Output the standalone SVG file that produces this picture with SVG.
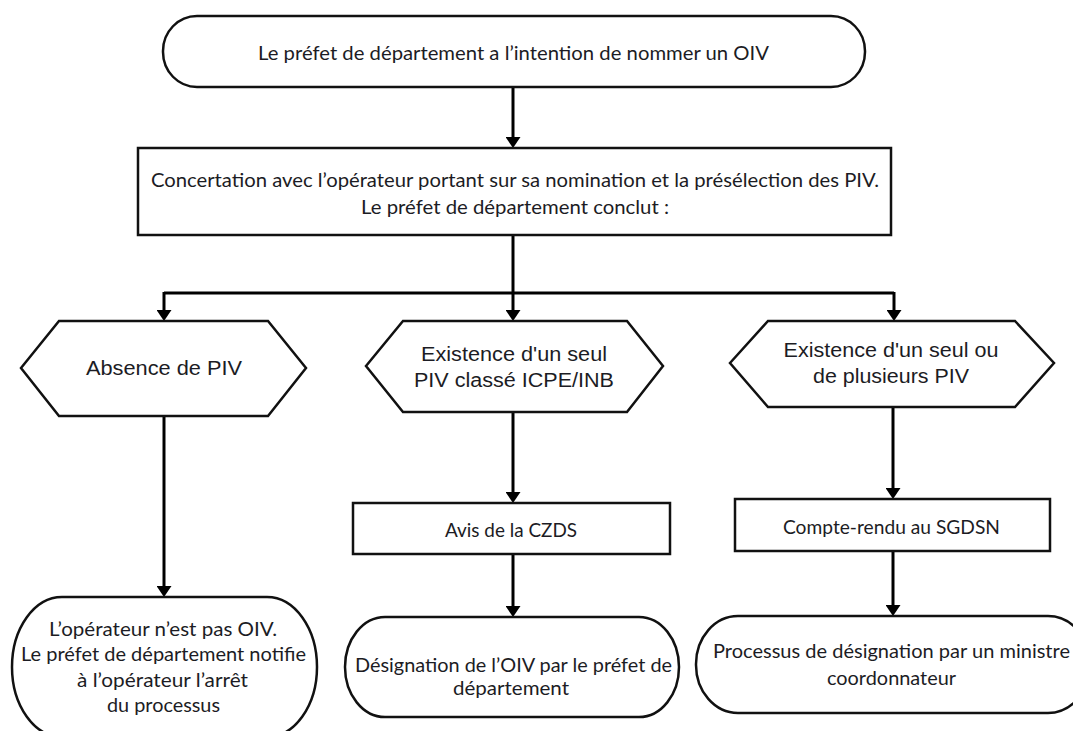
<svg xmlns="http://www.w3.org/2000/svg" width="1073" height="731" viewBox="0 0 1073 731">
<defs>
<style>
.box{fill:#fff;stroke:#111;stroke-width:2.5}
.t{font-family:Lato,"Open Sans","Liberation Sans",sans-serif;font-size:19px;fill:#1c1c24;text-anchor:middle}
.h{font-family:"Liberation Sans",Arial,sans-serif;font-size:20px;fill:#1c1c24;text-anchor:middle}
.c{fill:none;stroke:#000;stroke-width:3}
</style>
<marker id="arr" viewBox="0 0 11 15" refX="5" refY="7.5" markerWidth="11" markerHeight="15" markerUnits="userSpaceOnUse" orient="auto">
<path d="M0,0 L11,7.5 L0,15 z" fill="#000"/>
</marker>
</defs>
<rect width="1073" height="731" fill="#fff"/>
<g id="connectors">
<path class="c" d="M513,87 V142" marker-end="url(#arr)"/>
<path class="c" d="M513,235 V293"/>
<path class="c" d="M164,293 H894"/>
<path class="c" d="M164,292 V315" marker-end="url(#arr)"/>
<path class="c" d="M513,292 V315" marker-end="url(#arr)"/>
<path class="c" d="M894,292 V315" marker-end="url(#arr)"/>
<path class="c" d="M164,416 V591" marker-end="url(#arr)"/>
<path class="c" d="M513,412 V497" marker-end="url(#arr)"/>
<path class="c" d="M513,554 V611" marker-end="url(#arr)"/>
<path class="c" d="M893,407 V493" marker-end="url(#arr)"/>
<path class="c" d="M893,551 V610" marker-end="url(#arr)"/>
</g>
<g id="n-start">
<rect class="box" x="163" y="16" width="702" height="71" rx="34" ry="35"/>
<text class="t" x="513.5" y="60" textLength="511" lengthAdjust="spacingAndGlyphs">Le préfet de département a l’intention de nommer un OIV</text>
</g>
<g id="n-concertation">
<rect class="box" x="138" y="148" width="753" height="87"/>
<text class="t" x="515" y="187" textLength="728" lengthAdjust="spacingAndGlyphs">Concertation avec l’opérateur portant sur sa nomination et la présélection des PIV.</text>
<text class="t" x="515" y="214" textLength="308" lengthAdjust="spacingAndGlyphs">Le préfet de département conclut :</text>
</g>
<g id="n-absence">
<polygon class="box" points="21,368 59,321 268,321 306,368 268,416 59,416"/>
<text class="h" x="164" y="375" textLength="156" lengthAdjust="spacingAndGlyphs">Absence de PIV</text>
</g>
<g id="n-seul">
<polygon class="box" points="366,366 403,321 627,321 663,366 627,412 403,412"/>
<text class="h" x="514" y="361" textLength="186" lengthAdjust="spacingAndGlyphs">Existence d'un seul</text>
<text class="h" x="514" y="387" textLength="200" lengthAdjust="spacingAndGlyphs">PIV classé ICPE/INB</text>
</g>
<g id="n-plusieurs">
<polygon class="box" points="730,363 768,321 1015,321 1054,363 1015,407 768,407"/>
<text class="h" x="891" y="357" textLength="215" lengthAdjust="spacingAndGlyphs">Existence d'un seul ou</text>
<text class="h" x="891" y="383" textLength="156" lengthAdjust="spacingAndGlyphs">de plusieurs PIV</text>
</g>
<g id="n-czds">
<rect class="box" x="353" y="503" width="317" height="51"/>
<text class="t" x="511" y="537" textLength="132" lengthAdjust="spacingAndGlyphs">Avis de la CZDS</text>
</g>
<g id="n-sgdsn">
<rect class="box" x="735" y="499" width="315" height="52"/>
<text class="t" x="891.5" y="534" textLength="217" lengthAdjust="spacingAndGlyphs">Compte-rendu au SGDSN</text>
</g>
<g id="n-pasoiv">
<rect class="box" x="12" y="597" width="305" height="140" rx="50" ry="70"/>
<text class="t" x="163" y="636" textLength="228" lengthAdjust="spacingAndGlyphs">L’opérateur n’est pas OIV.</text>
<text class="t" x="163.5" y="661" textLength="285" lengthAdjust="spacingAndGlyphs">Le préfet de département notifie</text>
<text class="t" x="162.5" y="687" textLength="171" lengthAdjust="spacingAndGlyphs">à l’opérateur l’arrêt</text>
<text class="t" x="163.5" y="712" textLength="113" lengthAdjust="spacingAndGlyphs">du processus</text>
</g>
<g id="n-designation">
<rect class="box" x="345" y="617" width="334" height="100" rx="40" ry="50"/>
<text class="t" x="513.5" y="672" textLength="317" lengthAdjust="spacingAndGlyphs">Désignation de l’OIV par le préfet de</text>
<text class="t" x="511" y="695" textLength="116" lengthAdjust="spacingAndGlyphs">département</text>
</g>
<g id="n-ministre">
<rect class="box" x="696" y="616" width="394" height="97" rx="42" ry="48"/>
<text class="t" x="891.5" y="658" textLength="357" lengthAdjust="spacingAndGlyphs">Processus de désignation par un ministre</text>
<text class="t" x="891.5" y="685" textLength="129" lengthAdjust="spacingAndGlyphs">coordonnateur</text>
</g>
</svg>
